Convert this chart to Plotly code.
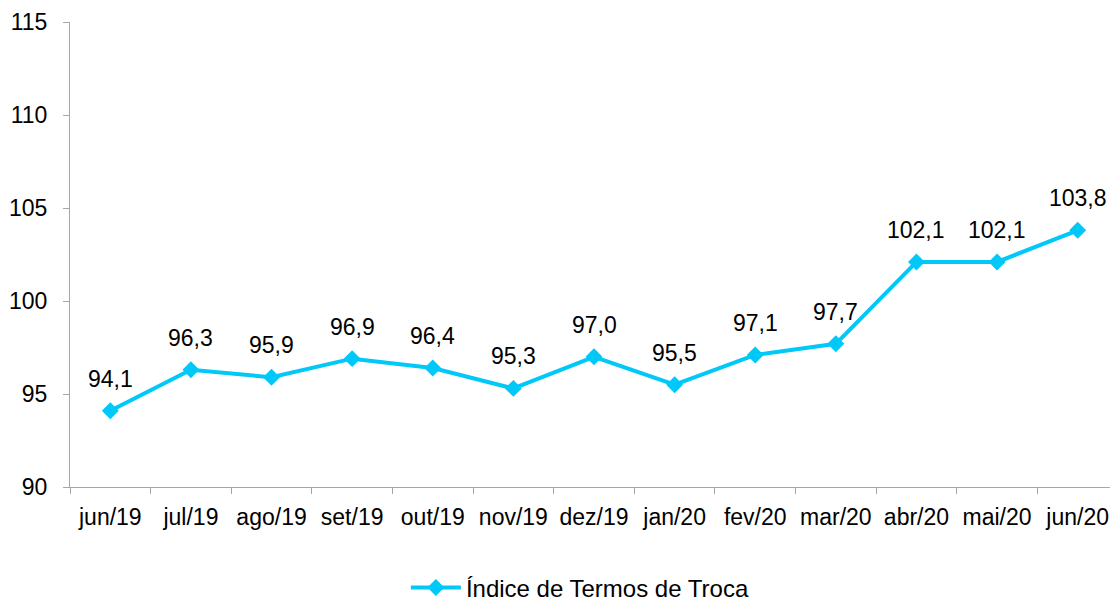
import plotly.graph_objects as go

months = ["jun/19", "jul/19", "ago/19", "set/19", "out/19", "nov/19", "dez/19",
          "jan/20", "fev/20", "mar/20", "abr/20", "mai/20", "jun/20"]
values = [94.1, 96.3, 95.9, 96.9, 96.4, 95.3, 97.0, 95.5, 97.1, 97.7, 102.1, 102.1, 103.8]
series_name = "Índice de Termos de Troca"
y_ticks = [90, 95, 100, 105, 110, 115]

LINE = "#00C8F8"
AXIS = "#A6A6A6"
FONT = "Liberation Sans, Arial, sans-serif"
FS = 23

fig = go.Figure()
fig.add_trace(go.Scatter(
    x=months, y=values, name=series_name, mode="lines+markers",
    line=dict(color=LINE, width=4),
    marker=dict(symbol="diamond", size=13, color=LINE),
))

for m, v in zip(months, values):
    fig.add_annotation(x=m, y=v, text=f"{v:.1f}".replace(".", ","),
                       showarrow=False, yshift=32,
                       font=dict(family=FONT, size=FS, color="#000000"))

# page body has an 8px margin, so the figure is 1110x594 placed at (8, 8)
fig.update_layout(
    width=1110, height=594,
    margin=dict(l=62, r=0, t=14, b=115, autoexpand=False),
    paper_bgcolor="white", plot_bgcolor="white",
    font=dict(family=FONT, size=FS, color="#000000"),
    showlegend=True,
    legend=dict(orientation="h", x=0.487, xanchor="center", y=-0.217, yanchor="middle",
                font=dict(family=FONT, size=24, color="#000000"), itemwidth=50),
    xaxis=dict(type="category", range=[-0.5, len(months) - 0.5],
               showgrid=False, showline=True, linecolor=AXIS, linewidth=1,
               ticks="outside", tickson="boundaries", ticklen=6, tickcolor=AXIS, tickwidth=1,
               tickangle=0, automargin=False,
               ticklabelstandoff=9, zeroline=False, fixedrange=True),
    yaxis=dict(range=[90, 115], tickvals=y_ticks, showgrid=False, showline=True,
               linecolor=AXIS, linewidth=1, ticks="outside", ticklen=6, tickcolor=AXIS,
               tickwidth=1, ticklabelstandoff=11, zeroline=False, automargin=False),
)

fig.write_html("out.html")
